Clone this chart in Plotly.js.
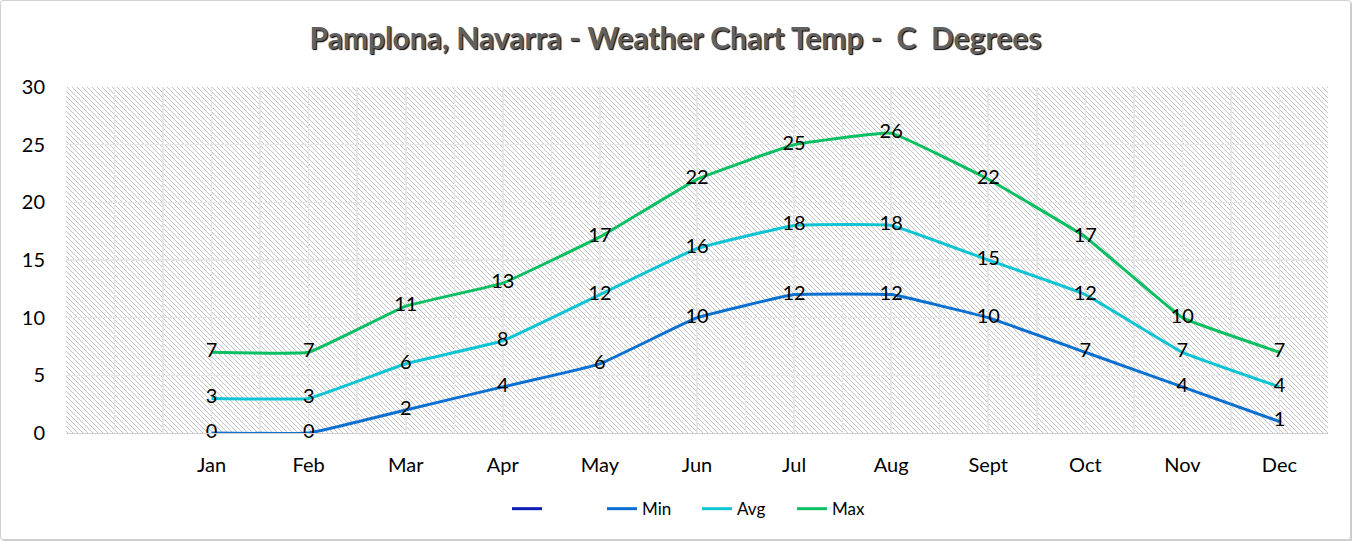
<!DOCTYPE html>
<html>
<head>
<meta charset="utf-8">
<script src="https://cdn.plot.ly/plotly-3.0.1.min.js"></script>
<style>
  html, body { margin: 0; padding: 0; background: #fff; }
  #chart { position: absolute; left: 0; top: 0; width: 1349px; height: 538px;
           border: 1px solid #d0d0d0; border-radius: 3px; box-shadow: 2px 2px 2px #c8c8c8; }
</style>
</head>
<body>
<div id="chart"></div>
<script>
// first category is left blank in the original
const months = ['', 'Jan', 'Feb', 'Mar', 'Apr', 'May', 'Jun', 'Jul', 'Aug', 'Sept', 'Oct', 'Nov', 'Dec'];
const minTemp = [null, 0, 0, 2, 4, 6, 10, 12, 12, 10, 7, 4, 1];
const avgTemp = [null, 3, 3, 6, 8, 12, 16, 18, 18, 15, 12, 7, 4];
const maxTemp = [null, 7, 7, 11, 13, 17, 22, 25, 26, 22, 17, 10, 7];
const blankSeries = [null];
const yTicks = [0, 5, 10, 15, 20, 25, 30];

const FONT = 'Lato, "Open Sans", sans-serif';
const xIdx = months.map((_, i) => i);

function lineTrace(name, values, color) {
  return {
    x: xIdx, y: values, name,
    type: 'scatter', mode: 'lines+text',
    text: values.map(v => v === null ? '' : String(v)),
    textposition: 'middle center',
    textfont: { family: FONT, size: 20, color: '#000' },
    line: { color, width: 3, shape: 'spline', smoothing: 0.25 },
    cliponaxis: false,
    hoverinfo: 'skip'
  };
}

const traces = [
  { x: [0], y: blankSeries, name: '', type: 'scatter', mode: 'lines',
    line: { color: '#0c1fb5', width: 3 }, hoverinfo: 'skip' },
  lineTrace('Min', minTemp, '#0b70d0'),
  lineTrace('Avg', avgTemp, '#10c4d4'),
  lineTrace('Max', maxTemp, '#0cbf62')
];

const layout = {
  width: 1349, height: 538,
  margin: { l: 65, r: 22, t: 86, b: 106 },
  paper_bgcolor: 'rgba(0,0,0,0)',
  plot_bgcolor: '#f0f0f0',
  showlegend: true,
  title: {
    text: '<b>Pamplona, Navarra - Weather Chart Temp -  C  Degrees</b>',
    x: 0.5, xanchor: 'center', y: 0.93, yanchor: 'middle',
    font: { family: FONT, size: 30, color: '#606060', shadow: '1px 1px 1px #000' }
  },
  xaxis: {
    range: [-0.5, months.length - 0.5],
    tickmode: 'array', tickvals: xIdx, ticktext: months,
    tickfont: { family: FONT, size: 20, color: '#000' },
    ticks: '', ticklabelstandoff: 14,
    showgrid: true, gridcolor: '#e6e6e6', gridwidth: 1.5,
    minor: { tickmode: 'linear', tick0: -0.5, dtick: 1, showgrid: true, gridcolor: '#e6e6e6', gridwidth: 1.5 },
    zeroline: false, showline: true, linecolor: '#d0d0d0', linewidth: 1,
    fixedrange: true
  },
  yaxis: {
    range: [0, 30],
    tickmode: 'array', tickvals: yTicks,
    tickfont: { family: FONT, size: 20, color: '#000' },
    ticks: '', ticklabelstandoff: 20,
    showgrid: true, gridcolor: '#e6e6e6', gridwidth: 1.5,
    zeroline: false, showline: false,
    fixedrange: true
  },
  legend: {
    orientation: 'h', x: 0.5, xanchor: 'center', y: -0.22, yanchor: 'middle',
    font: { family: FONT, size: 17, color: '#000' },
    entrywidth: 50, entrywidthmode: 'pixels',
    tracegroupgap: 0
  }
};

Plotly.newPlot('chart', traces, layout, { displayModeBar: false, staticPlot: true }).then(gd => {
  // Excel-like diagonal hatch behind the plot area
  const svgNS = 'http://www.w3.org/2000/svg';
  const svg = gd.querySelector('.main-svg');
  let defs = svg.querySelector('defs');
  if (!defs) { defs = document.createElementNS(svgNS, 'defs'); svg.insertBefore(defs, svg.firstChild); }
  const pat = document.createElementNS(svgNS, 'pattern');
  pat.setAttribute('id', 'hatchBg');
  pat.setAttribute('patternUnits', 'userSpaceOnUse');
  pat.setAttribute('width', '5');
  pat.setAttribute('height', '5');
  pat.innerHTML = '<rect width="5" height="5" fill="#ffffff"/>' +
    '<path d="M-1,-1 L6,6 M-1,4 L1,6 M4,-1 L6,1" stroke="#c4c4c4" stroke-width="1"/>';
  defs.appendChild(pat);
  const bg = svg.querySelector('rect.bg');
  if (bg) bg.style.fill = 'url(#hatchBg)';
});
</script>
</body>
</html>
